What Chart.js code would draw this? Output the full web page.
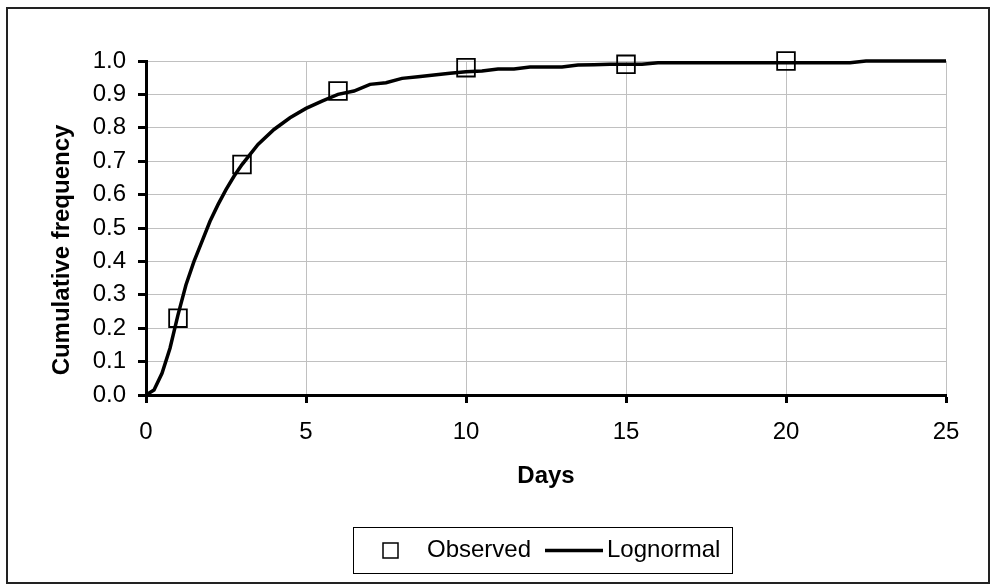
<!DOCTYPE html>
<html><head><meta charset="utf-8">
<script src="https://cdn.jsdelivr.net/npm/chart.js@4/dist/chart.umd.min.js"></script>
<style>html,body{margin:0;padding:0;background:#fff;overflow:hidden}#wrap{position:absolute;left:0;top:0;width:992px;height:586px}</style>
</head><body><div id="wrap"><canvas id="c"></canvas></div>
<script>
const observedDays = [1, 3, 6, 10, 15, 20];
const observedFreq = [0.23, 0.69, 0.91, 0.98, 0.99, 1.00];
const curveDays = [0, 0.25, 0.5, 0.75, 1, 1.25, 1.5, 1.75, 2, 2.25, 2.5, 2.75, 3, 3.5, 4, 4.5, 5, 5.5, 6, 6.5, 7, 7.5, 8, 8.5, 9, 9.5, 10, 10.5, 11, 11.5, 12, 12.5, 13, 13.5, 14, 14.5, 15, 15.5, 16, 17, 18, 19, 20, 21, 22, 22.5, 23, 24, 25];
const curveFreq = [0, 0.015, 0.065, 0.14, 0.24, 0.33, 0.40, 0.46, 0.52, 0.57, 0.615, 0.655, 0.69, 0.75, 0.795, 0.83, 0.858, 0.88, 0.90, 0.91, 0.93, 0.935, 0.948, 0.953, 0.958, 0.963, 0.968, 0.970, 0.976, 0.976, 0.982, 0.982, 0.982, 0.988, 0.989, 0.99, 0.99, 0.99, 0.995, 0.995, 0.995, 0.995, 0.995, 0.995, 0.995, 1.0, 1.0, 1.0, 1.0];
const xTickValues = [0, 5, 10, 15, 20, 25];
const yTickValues = [0, 0.1, 0.2, 0.3, 0.4, 0.5, 0.6, 0.7, 0.8, 0.9, 1.0];
const seriesNames = ['Observed', 'Lognormal'];
const xTitle = 'Days';
const yTitle = 'Cumulative frequency';

const FONT = '"Liberation Sans", Arial, sans-serif';

const frameAndLegend = {
  id: 'frameAndLegend',
  afterDraw(chart) {
    const ctx = chart.ctx;
    ctx.save();
    ctx.strokeStyle = '#222';
    ctx.lineWidth = 2;
    ctx.strokeRect(7, 8, 982, 575);
    ctx.save();
    ctx.translate(62, 250);
    ctx.rotate(-Math.PI / 2);
    ctx.font = 'bold 24px ' + FONT;
    ctx.fillStyle = '#000';
    ctx.textAlign = 'center';
    ctx.textBaseline = 'middle';
    ctx.fillText(yTitle, 0, 0);
    ctx.restore();
    ctx.strokeStyle = '#000';
    ctx.lineWidth = 1;
    ctx.strokeRect(353.5, 527.5, 379, 46);
    const cy = 550.5;
    ctx.font = '24px ' + FONT;
    ctx.fillStyle = '#000';
    ctx.textBaseline = 'middle';
    ctx.textAlign = 'left';
    ctx.lineWidth = 1.5;
    ctx.strokeRect(383, 543, 15, 15);
    ctx.fillText(chart.data.datasets[0].label, 427, cy);
    ctx.lineWidth = 3.5;
    ctx.beginPath();
    ctx.moveTo(545, cy);
    ctx.lineTo(603, cy);
    ctx.stroke();
    ctx.fillText(chart.data.datasets[1].label, 607, cy);
    ctx.restore();
  }
};

new Chart(document.getElementById('c'), {
  type: 'scatter',
  data: {
    datasets: [
      {
        label: seriesNames[0],
        data: observedDays.map((d, i) => ({x: d, y: observedFreq[i]})),
        pointStyle: 'rect',
        pointRadius: 12.5,
        pointBorderWidth: 1.8,
        pointBorderColor: '#000',
        pointBackgroundColor: 'rgba(0,0,0,0)',
        showLine: false,
        clip: false,
        order: 0
      },
      {
        label: seriesNames[1],
        data: curveDays.map((d, i) => ({x: d, y: curveFreq[i]})),
        showLine: true,
        borderColor: '#000',
        borderWidth: 3.5,
        pointRadius: 0,
        tension: 0,
        clip: false,
        order: 1
      }
    ]
  },
  options: {
    responsive: true,
    maintainAspectRatio: false,
    animation: false,
    layout: {padding: {left: 49, right: 46, top: 61, bottom: 95}},
    plugins: {legend: {display: false}, tooltip: {enabled: false}},
    scales: {
      x: {
        type: 'linear', min: 0, max: 25, position: 'bottom',
        afterBuildTicks: s => { s.ticks = xTickValues.map(v => ({value: v})); },
        afterFit: s => { s.height = 96; },
        grid: {color: '#c0c0c0', lineWidth: 1, drawTicks: true, tickLength: 8, tickColor: '#000', tickWidth: 3},
        border: {color: '#000', width: 3},
        ticks: {font: {family: FONT, size: 24}, color: '#000', padding: 15, maxRotation: 0, autoSkip: false},
        title: {display: true, text: xTitle, font: {family: FONT, size: 24, weight: 'bold'}, color: '#000', padding: 0}
      },
      y: {
        type: 'linear', min: 0, max: 1,
        afterBuildTicks: s => { s.ticks = yTickValues.map(v => ({value: v})); },
        afterFit: s => { s.width = 97; },
        grid: {color: '#c0c0c0', lineWidth: 1, drawTicks: true, tickLength: 8, tickColor: '#000', tickWidth: 3},
        border: {color: '#000', width: 3},
        ticks: {font: {family: FONT, size: 24}, color: '#000', padding: 12, autoSkip: false, callback: v => Number(v).toFixed(1)},
        title: {display: false}
      }
    }
  },
  plugins: [frameAndLegend]
});
</script>
</body></html>
